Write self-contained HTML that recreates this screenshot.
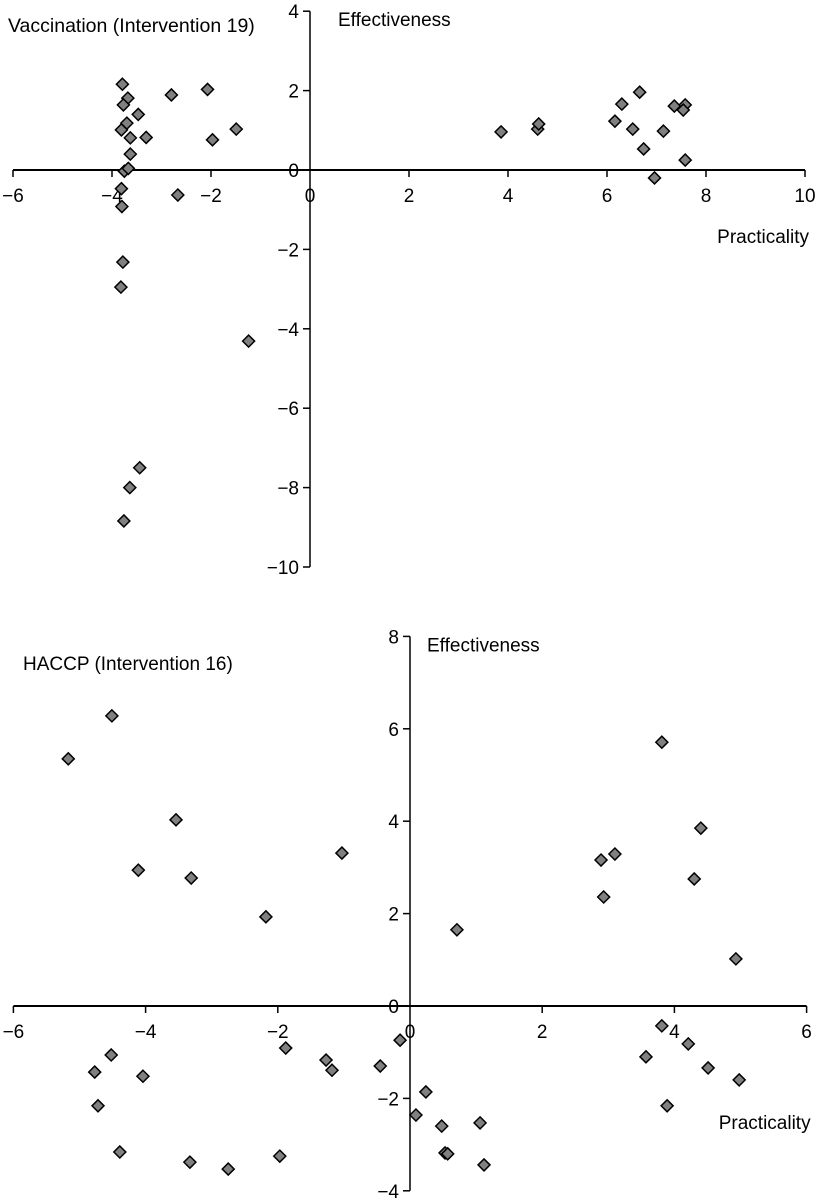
<!DOCTYPE html>
<html><head><meta charset="utf-8"><style>
html,body{margin:0;padding:0;background:#fff}
svg{display:block;font-family:"Liberation Sans",Arial,sans-serif}
</style></head><body>
<svg id="chart" width="819" height="1204" viewBox="0 0 819 1204" xmlns="http://www.w3.org/2000/svg"></svg>
<script>
// ---- Top chart data: Vaccination (Intervention 19)
const vacPracticality = [-3.79,-3.68,-3.77,-2.8,-2.07,-3.47,-3.7,-3.81,-3.63,-3.31,-1.49,-1.97,-3.63,-3.75,-3.67,-3.81,-2.67,-3.8,-3.78,-3.82,-1.24,-3.44,-3.64,-3.76,
  3.86,4.6,4.62,6.16,6.3,6.52,6.66,6.74,6.96,7.14,7.36,7.58,7.54,7.58];
const vacEffectiveness = [2.16,1.81,1.64,1.89,2.03,1.40,1.18,1.01,0.81,0.82,1.03,0.76,0.40,-0.03,0.04,-0.47,-0.63,-0.92,-2.32,-2.95,-4.31,-7.5,-8.0,-8.84,
  0.96,1.03,1.16,1.23,1.66,1.03,1.96,0.53,-0.2,0.98,1.61,1.64,1.51,0.25];
const vacXTicks = [-6,-4,-2,0,2,4,6,8,10];
const vacYTicks = [4,2,0,-2,-4,-6,-8,-10];

// ---- Bottom chart data: HACCP (Intervention 16)
const hacPracticality = [-5.17,-4.51,-3.54,-4.11,-3.31,-2.18,-1.03,0.71,2.89,3.1,3.81,2.93,4.4,4.3,4.93,
  3.81,3.57,4.21,4.51,4.98,3.89,-4.52,-4.77,-4.72,-4.04,-4.39,-3.33,-2.75,-1.97,-1.88,-1.27,-1.18,-0.45,-0.15,0.24,0.09,0.48,0.53,0.57,1.06,1.12];
const hacEffectiveness = [5.35,6.28,4.03,2.94,2.77,1.93,3.31,1.65,3.16,3.29,5.71,2.36,3.85,2.75,1.02,
  -0.43,-1.10,-0.82,-1.34,-1.60,-2.16,-1.06,-1.43,-2.16,-1.52,-3.16,-3.38,-3.53,-3.25,-0.91,-1.17,-1.39,-1.30,-0.74,-1.86,-2.36,-2.6,-3.18,-3.2,-2.53,-3.44];
const hacXTicks = [-6,-4,-2,0,2,4,6];
const hacYTicks = [8,6,4,2,0,-2,-4];

const svg = document.getElementById('chart');
const NS = 'http://www.w3.org/2000/svg';
function mk(tag, attrs, parent){
  const e = document.createElementNS(NS, tag);
  for (const k in attrs) e.setAttribute(k, attrs[k]);
  (parent||svg).appendChild(e);
  return e;
}
function fmt(v){ return v < 0 ? '\u2212' + Math.abs(v) : String(v); }
const FS = 19;

function drawChart(cfg){
  const g = mk('g', {});
  
  
  const sx = v => cfg.x0 + v * cfg.kx;
  const sy = v => cfg.y0 - v * cfg.ky;
  const xMin = cfg.xt[0], xMax = cfg.xt[cfg.xt.length-1];
  const yMax = cfg.yt[0], yMin = cfg.yt[cfg.yt.length-1];
  const xa = mk('line', {x1: sx(xMin), x2: sx(xMax), y1: sy(0), y2: sy(0), stroke:'#000','stroke-width':2}, g);
  
  
  cfg.xt.forEach(v => {
    if (v !== 0) mk('line', {x1: sx(v), x2: sx(v), y1: sy(0), y2: sy(0)+7, stroke:'#000','stroke-width':1.5}, g);
    const t = mk('text', {x: sx(v), y: sy(0)+32, 'text-anchor':'middle','font-size':FS,fill:'#000'}, g);
    t.textContent = fmt(v);
    
    
  });
  const ya = mk('line', {x1: sx(0), x2: sx(0), y1: sy(yMax), y2: sy(yMin), stroke:'#000','stroke-width':1.5}, g);
  
  
  cfg.yt.forEach(v => {
    mk('line', {x1: sx(0)-7, x2: sx(0), y1: sy(v), y2: sy(v), stroke:'#000','stroke-width':1.5}, g);
    const t = mk('text', {x: sx(0)-11, y: sy(v)+7, 'text-anchor':'end','font-size':FS,fill:'#000'}, g);
    t.textContent = fmt(v);
    
    
  });
  const tt = mk('text', {x: cfg.titleX, y: cfg.titleY, 'font-size':cfg.titleFS, fill:'#000'}, g);
  tt.textContent = cfg.title;
  
  
  const yt = mk('text', {x: sx(0)+cfg.effOff, y: sy(yMax)+15, 'font-size':FS, fill:'#000'}, g);
  yt.textContent = 'Effectiveness';
  
  
  const xt = mk('text', {x: sx(xMax)+4, y: cfg.xTitleY, 'text-anchor':'end','font-size':FS, fill:'#000'}, g);
  xt.textContent = 'Practicality';
  
  
  const r = 6;
  cfg.px.forEach((v, i) => {
    const cx = sx(v), cy = sy(cfg.py[i]);
    const p = mk('polygon', {points: `${cx},${cy-r} ${cx+r},${cy} ${cx},${cy+r} ${cx-r},${cy}`, fill:'#808080', stroke:'#000', 'stroke-width':1.5}, g);
    
    
  });
}

drawChart({name:'vaccination-chart', title:'Vaccination (Intervention 19)', titleX:8, titleY:32, titleFS:19.5, effOff:28,
  x0:310, kx:49.5, y0:170, ky:39.7, xt:vacXTicks, yt:vacYTicks, px:vacPracticality, py:vacEffectiveness, xTitleY:243});
drawChart({name:'haccp-chart', title:'HACCP (Intervention 16)', titleX:23, titleY:670, titleFS:19, effOff:17,
  x0:410, kx:66.1, y0:1006, ky:46.2, xt:hacXTicks, yt:hacYTicks, px:hacPracticality, py:hacEffectiveness, xTitleY:1129});
</script>
</body></html>
